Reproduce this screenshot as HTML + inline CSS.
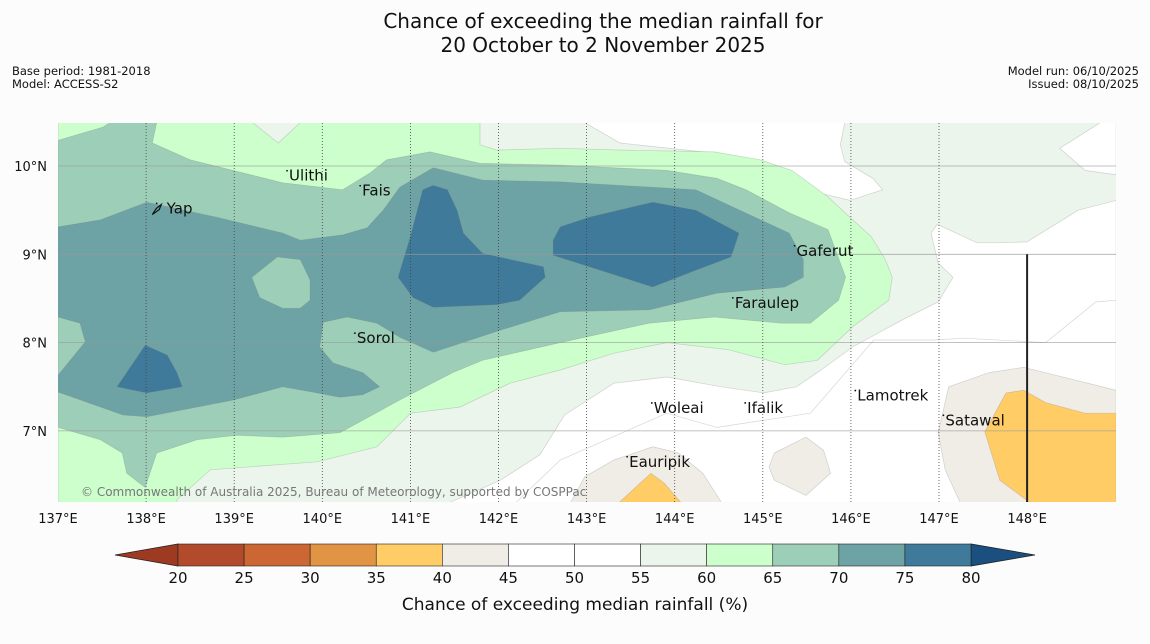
<!DOCTYPE html>
<html><head><meta charset="utf-8"><style>
body{margin:0;background:#fcfcfc;font-family:"Liberation Sans","DejaVu Sans",sans-serif;overflow:hidden;}
svg{display:block;}
svg text{font-family:"DejaVu Sans","Liberation Sans",sans-serif;}
</style></head><body>
<svg id="chart" width="1150" height="644" viewBox="0 0 1150 644" xmlns="http://www.w3.org/2000/svg">
<rect width="1150" height="644" fill="#fcfcfc"/>
<text x="603" y="28" font-size="20" text-anchor="middle" fill="#111">Chance of exceeding the median rainfall for</text>
<text x="603" y="52" font-size="20" text-anchor="middle" fill="#111">20 October to 2 November 2025</text>
<text x="12" y="75" font-size="11.5" fill="#111">Base period: 1981-2018</text>
<text x="12" y="88" font-size="11.5" fill="#111">Model: ACCESS-S2</text>
<text x="1139" y="75" font-size="11.5" text-anchor="end" fill="#111">Model run: 06/10/2025</text>
<text x="1139" y="88" font-size="11.5" text-anchor="end" fill="#111">Issued: 08/10/2025</text>
<defs><clipPath id="mapclip"><rect x="58" y="123" width="1058" height="379"/></clipPath></defs>
<g id="map" clip-path="url(#mapclip)"></g>
<g id="axes"></g>
<g id="cbar"></g>
</svg>
<script>
const lonMin=137, lonMax=149.01, latMin=6.19, latMax=10.49;
const lonTicks=[137,138,139,140,141,142,143,144,145,146,147,148];
const latTicks=[10,9,8,7];
const cbLevels=[20,25,30,35,40,45,50,55,60,65,70,75,80];
const cbColors=["#b24b2b","#cc6633","#e09444","#ffcc66","#f0ede6","#ffffff","#ffffff","#ebf5eb","#ccffcc","#9dcfb8","#6ea3a6","#3f7a9a"];
const white1=[[142.98,10.49],[143.38,10.26],[144.32,10.16],[144.97,10.05],[145.34,9.81],[145.57,9.71],[145.99,9.61],[146.36,9.73],[146.25,9.86],[145.93,10.05],[145.88,10.24],[145.93,10.49]];
const white2=[[148.83,10.49],[148.37,10.20],[148.66,9.95],[149.01,9.90],[149.01,10.49]];
const white3=[[149.01,9.61],[148.58,9.50],[148.00,9.14],[147.66,9.13],[147.43,9.13],[146.98,9.34],[146.91,9.24],[146.99,8.90],[147.16,8.74],[146.99,8.46],[146.59,8.26],[146.02,7.95],[145.62,7.66],[145.38,7.50],[145.01,7.43],[144.53,7.50],[143.91,7.61],[143.31,7.54],[142.75,7.18],[142.47,6.73],[142.02,6.44],[141.45,6.19],[149.01,6.19]];
const beige1=[[142.82,6.19],[142.98,6.48],[143.31,6.67],[143.75,6.82],[144.04,6.75],[144.32,6.52],[144.53,6.19]];
const orange1=[[143.37,6.19],[143.73,6.52],[143.88,6.41],[144.07,6.19]];
const beige2=[[145.13,6.75],[145.49,6.93],[145.69,6.78],[145.77,6.52],[145.49,6.27],[145.13,6.44],[145.07,6.59]];
const beige3=[[147.24,6.19],[147.07,6.56],[146.99,6.98],[147.11,7.50],[147.57,7.66],[147.96,7.72],[148.53,7.58],[149.01,7.46],[149.01,6.19]];
const orange3=[[148.03,6.19],[147.69,6.44],[147.52,6.99],[147.76,7.43],[147.96,7.46],[148.21,7.32],[148.66,7.20],[149.01,7.20],[149.01,6.19]];
const level60=[[137,10.49],[139.21,10.49],[139.50,10.26],[139.75,10.49],[141.79,10.49],[141.79,10.24],[141.98,10.18],[142.70,10.20],[143.42,10.18],[144.45,10.16],[144.97,10.07],[145.33,9.95],[145.74,9.65],[146.02,9.39],[146.23,9.20],[146.39,8.94],[146.47,8.74],[146.43,8.48],[146.02,8.18],[145.62,7.80],[145.25,7.75],[144.61,7.92],[143.91,8.00],[143.31,7.88],[142.70,7.69],[142.13,7.54],[141.56,7.27],[141.00,7.20],[140.62,6.82],[139.94,6.65],[138.73,6.56],[138.35,6.22],[138.35,6.19],[137,6.19]];
const level65=[[137,10.29],[137.51,10.44],[137.59,10.49],[138.12,10.49],[138.07,10.26],[138.50,10.07],[139.55,9.81],[140.23,9.73],[140.54,9.92],[140.73,10.07],[141.22,10.16],[141.79,10.03],[142.70,10.01],[143.91,9.95],[144.48,9.86],[144.81,9.73],[145.30,9.47],[145.74,9.28],[145.94,8.74],[145.86,8.48],[145.54,8.22],[145.21,8.22],[144.45,8.29],[143.71,8.22],[142.70,8.00],[141.82,7.80],[141.48,7.66],[140.88,7.35],[140.20,6.98],[139.55,6.93],[139.03,6.95],[138.58,6.90],[138.12,6.75],[137.99,6.36],[137.78,6.52],[137.73,6.75],[137.48,6.90],[137,7.04]];
const level70=[[137,9.31],[137.48,9.39],[138.01,9.59],[138.80,9.42],[139.55,9.24],[139.75,9.16],[140.23,9.22],[140.51,9.30],[140.69,9.50],[140.88,9.76],[141.26,9.98],[141.82,9.84],[142.70,9.82],[144.24,9.73],[145.30,9.24],[145.46,8.94],[145.46,8.74],[145.25,8.63],[144.48,8.56],[143.71,8.37],[142.70,8.35],[142.02,8.14],[141.26,7.89],[140.88,8.06],[140.62,8.22],[140.28,8.29],[140.01,8.23],[139.97,7.95],[140.12,7.77],[140.46,7.66],[140.65,7.50],[140.46,7.41],[140.20,7.38],[139.94,7.43],[139.55,7.50],[138.99,7.35],[138.01,7.16],[137.74,7.18],[137,7.44],[137,7.63],[137.31,8.01],[137.25,8.22],[137,8.29]];
const hole65=[[139.20,8.74],[139.49,8.97],[139.75,8.94],[139.86,8.71],[139.86,8.48],[139.75,8.39],[139.55,8.39],[139.29,8.51]];
const level75a=[[140.86,8.74],[141.00,9.20],[141.14,9.73],[141.26,9.78],[141.42,9.73],[141.53,9.50],[141.60,9.24],[141.82,9.01],[142.51,8.86],[142.53,8.74],[142.24,8.48],[141.98,8.43],[141.26,8.40],[141.03,8.51]];
const level75b=[[142.62,9.16],[142.70,9.31],[143.03,9.42],[143.75,9.59],[144.24,9.50],[144.73,9.24],[144.64,8.97],[144.24,8.82],[143.75,8.63],[143.03,8.86],[142.62,8.99]];
const level75c=[[137.67,7.50],[137.99,7.97],[138.24,7.86],[138.35,7.66],[138.41,7.50],[138.01,7.43]];
const line50=[[142.2,6.19],[142.70,6.67],[143.91,7.20],[144.48,7.04],[145.54,7.20],[146.06,7.80],[146.26,8.03],[146.95,8.03],[147.28,8.05],[148.21,8.00],[148.78,8.46],[149.01,8.48]];
const placeNames=["Yap","Ulithi","Fais","Sorol","Gaferut","Faraulep","Woleai","Ifalik","Lamotrek","Satawal","Eauripik"];
const placeLon=[138.12,139.60,140.43,140.37,145.36,144.66,143.74,144.80,146.05,147.05,143.46];
const placeLat=[9.52,9.89,9.72,8.05,9.04,8.45,7.26,7.26,7.40,7.12,6.65];

const X=lon=>58+(lon-lonMin)*88.1;
const Y=lat=>166+(10-lat)*88.3;
const NS="http://www.w3.org/2000/svg";
const map=document.getElementById('map'), axes=document.getElementById('axes'), cbar=document.getElementById('cbar');
function mk(tag,attrs,parent){const e=document.createElementNS(NS,tag);for(const k in attrs)e.setAttribute(k,attrs[k]);parent.appendChild(e);return e;}
function poly(pts,fill,name){
  const e=mk('polygon',{points:pts.map(p=>X(p[0]).toFixed(1)+','+Y(p[1]).toFixed(1)).join(' '),fill:fill,stroke:'rgba(120,120,120,0.3)','stroke-width':0.7},map);
  
  
}
const base=mk('rect',{x:58,y:123,width:1058,height:379,fill:cbColors[7]},map);


poly(white1,'#ffffff','contour-white-north');
poly(white2,'#ffffff','contour-white-northeast');
poly(white3,'#ffffff','contour-white-southeast');
poly(beige1,cbColors[4],'contour-40-45-eauripik');
poly(orange1,cbColors[3],'contour-35-40-eauripik');
poly(beige2,cbColors[4],'contour-40-45-blob');
poly(beige3,cbColors[4],'contour-40-45-satawal');
poly(orange3,cbColors[3],'contour-35-40-satawal');
poly(level60,cbColors[8],'contour-60-65');
poly(level65,cbColors[9],'contour-65-70');
poly(level70,cbColors[10],'contour-70-75');
poly(hole65,cbColors[9],'contour-65-70-hole');
poly(level75a,cbColors[11],'contour-75-80-central');
poly(level75b,cbColors[11],'contour-75-80-east');
poly(level75c,cbColors[11],'contour-75-80-west');
const l50=mk('polyline',{points:line50.map(p=>X(p[0]).toFixed(1)+','+Y(p[1]).toFixed(1)).join(' '),fill:'none',stroke:'rgba(120,120,120,0.3)','stroke-width':0.7},map);


latTicks.forEach(t=>{
  const g=mk('line',{x1:58,x2:1116,y1:Y(t),y2:Y(t),stroke:'#999','stroke-width':0.8,opacity:0.8},map);
  
  
  const tx=mk('text',{x:47,y:Y(t)+5,'font-size':13,'text-anchor':'end',fill:'#111'},axes);
  tx.textContent=t+'°N';
  
  
});
lonTicks.forEach(t=>{
  if(t>137&&t<148){
    const g=mk('line',{x1:X(t),x2:X(t),y1:123,y2:502,stroke:'#444','stroke-width':0.8,'stroke-dasharray':'1,2'},map);
    
    
  }
  const tx=mk('text',{x:X(t),y:523,'font-size':13,'text-anchor':'middle',fill:'#111'},axes);
  tx.textContent=t+'°E';
  
  
});
const bl=mk('line',{x1:X(148),x2:X(148),y1:Y(9),y2:502,stroke:'#222','stroke-width':2},map);


const copy=mk('text',{x:81,y:496,'font-size':12,fill:'#777'},map);
copy.textContent='© Commonwealth of Australia 2025, Bureau of Meteorology, supported by COSPPac';


placeNames.forEach((n,i)=>{
  const m=mk('circle',{cx:X(placeLon[i]),cy:Y(placeLat[i])-5,r:0.9,fill:'#111'},map);
  
  
  const tx=mk('text',{x:X(placeLon[i])+(n==='Yap'?10:2),y:Y(placeLat[i])+5,'font-size':15,fill:'#111'},map);
  tx.textContent=n;
  
  
});
const yapShape=mk('path',{d:`M${X(138.07)} ${Y(9.45)} l4 -6 l5 -4 l-2 5 z`,fill:'none',stroke:'#111','stroke-width':1.2},map);


const cbX=v=>178+(v-20)*(793/60);
const cy0=544, cy1=566;
const le=mk('polygon',{points:`115,${(cy0+cy1)/2} ${cbX(20)},${cy0} ${cbX(20)},${cy1}`,fill:'#9e3a22',stroke:'#222','stroke-width':0.8},cbar);


const re=mk('polygon',{points:`1035,${(cy0+cy1)/2} ${cbX(80)},${cy0} ${cbX(80)},${cy1}`,fill:'#1a4f80',stroke:'#222','stroke-width':0.8},cbar);


for(let i=0;i<cbColors.length;i++){
  const r=mk('rect',{x:cbX(cbLevels[i]),y:cy0,width:cbX(cbLevels[i+1])-cbX(cbLevels[i]),height:cy1-cy0,fill:cbColors[i],stroke:'#222','stroke-width':0.6},cbar);
  
  
}
cbLevels.forEach(v=>{
  const tx=mk('text',{x:cbX(v),y:583,'font-size':15,'text-anchor':'middle',fill:'#111'},cbar);
  tx.textContent=v;
  
  
});
const ct=mk('text',{x:575,y:610,'font-size':17,'text-anchor':'middle',fill:'#111'},cbar);
ct.textContent='Chance of exceeding median rainfall (%)';


</script>
</body></html>
